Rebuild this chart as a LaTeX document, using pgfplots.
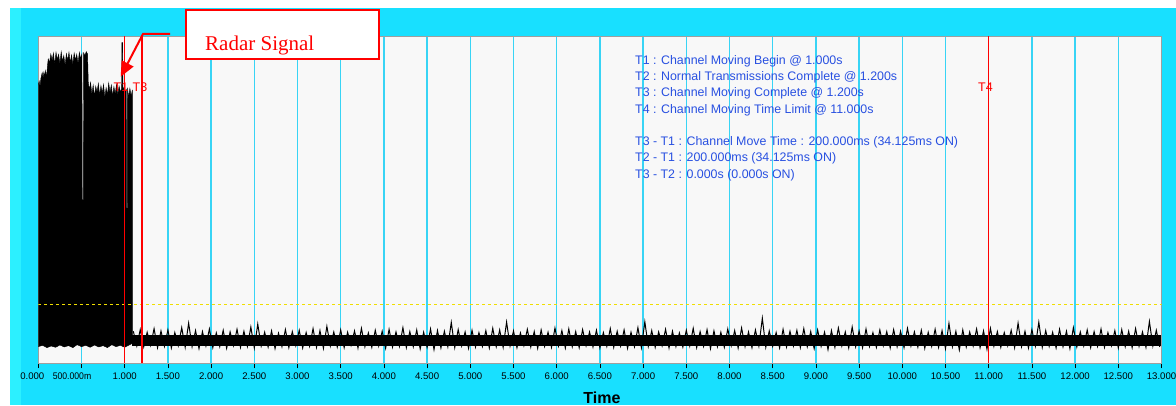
\documentclass[border=0pt]{standalone}
\usepackage{graphicx}
\usepackage{pgfplots}
\pgfplotsset{compat=1.18}
\usepackage{fontspec}
\setmainfont{Liberation Sans}
\newfontfamily\serifface{Liberation Serif}
\usetikzlibrary{arrows.meta}

\definecolor{framecyan}{RGB}{24,224,255}
\definecolor{framelight}{RGB}{44,240,255}
\definecolor{gridcyan}{RGB}{56,212,245}
\definecolor{plotbg}{RGB}{248,248,248}
\definecolor{annblue}{RGB}{40,80,225}
\definecolor{threshyellow}{RGB}{240,222,0}

\begin{document}
\begin{tikzpicture}[x=1pt,y=1pt]
\useasboundingbox (0,0) rectangle (1176,405);
\fill[white] (0,0) rectangle (1176,405);
\fill[framecyan] (10,0) rectangle (1176,397);
\fill[framelight] (10,0) rectangle (21,397);

\begin{axis}[
  at={(38.3pt,42pt)}, anchor=south west,
  scale only axis, width=1123.2pt, height=327pt,
  xmin=0, xmax=13, ymin=0, ymax=1,
  axis background/.style={fill=plotbg},
  axis line style={draw=gray!75, line width=0.8pt},
  xtick={0,0.5,1,1.5,2,2.5,3,3.5,4,4.5,5,5.5,6,6.5,7,7.5,8,8.5,9,9.5,10,10.5,11,11.5,12,12.5,13},
  xticklabels={{\hspace*{-12pt}0.000},{\hspace*{-19pt}\scalebox{0.9}[1]{500.000m}},1.000,1.500,2.000,2.500,3.000,3.500,4.000,4.500,5.000,5.500,6.000,6.500,7.000,7.500,8.000,8.500,9.000,9.500,10.000,10.500,11.000,11.500,12.000,12.500,13.000},
  ytick=\empty,
  xtick pos=lower,
  tick align=outside,
  major tick length=5pt,
  tick style={black, line width=0.8pt},
  xmajorgrids,
  grid style={gridcyan, line width=1.3pt},
  xticklabel style={font=\fontsize{9.6}{10}\selectfont, yshift=-1.5pt},
  /pgf/number format/assume math mode=true,
]

% burst of transmissions before the channel move
\addplot[fill=black, draw=black, line width=0.4pt] coordinates {
(0.000,0.050)(0.000,0.850)(0.010,0.862)(0.020,0.845)(0.030,0.870)(0.045,0.888)(0.055,0.872)(0.065,0.890)(0.075,0.876)(0.085,0.894)(0.095,0.870)(0.105,0.905)(0.115,0.930)
(0.130,0.918)(0.145,0.945)(0.160,0.925)(0.175,0.948)(0.190,0.912)(0.205,0.950)(0.220,0.928)(0.235,0.944)(0.250,0.915)(0.265,0.952)(0.280,0.922)(0.295,0.940)(0.310,0.910)(0.325,0.946)(0.340,0.925)(0.355,0.950)(0.370,0.918)(0.385,0.942)(0.400,0.912)(0.415,0.948)(0.430,0.926)(0.445,0.944)(0.460,0.915)(0.475,0.950)(0.490,0.930)(0.505,0.945)(0.509,0.500)(0.521,0.500)(0.525,0.948)(0.540,0.940)(0.555,0.952)(0.570,0.945)
(0.578,0.860)(0.590,0.835)(0.605,0.858)(0.620,0.822)(0.635,0.850)(0.650,0.815)(0.665,0.846)(0.680,0.828)(0.695,0.855)(0.710,0.818)(0.725,0.848)(0.740,0.825)(0.755,0.852)(0.770,0.812)(0.785,0.842)(0.800,0.820)(0.815,0.856)(0.830,0.826)(0.845,0.850)(0.860,0.816)(0.875,0.845)(0.890,0.822)(0.905,0.852)(0.920,0.818)(0.935,0.847)(0.950,0.828)(0.965,0.840)
(0.968,0.980)(0.976,0.980)(0.980,0.835)(0.995,0.845)(1.010,0.826)(1.018,0.838)(1.020,0.474)(1.030,0.474)(1.032,0.842)(1.045,0.812)(1.060,0.840)(1.075,0.815)(1.088,0.835)(1.088,0.060)
(1.000,0.048)(0.950,0.054)(0.900,0.050)(0.850,0.056)(0.800,0.047)(0.750,0.053)(0.700,0.049)(0.650,0.055)(0.600,0.048)(0.550,0.054)(0.500,0.050)(0.450,0.056)(0.400,0.047)(0.350,0.053)(0.300,0.049)(0.250,0.055)(0.200,0.048)(0.150,0.052)(0.100,0.047)(0.050,0.054)
} -- cycle;

% noise floor after the move: core band
\addplot[fill=black, draw=none] coordinates {
(1.088,0.052)(12.99,0.052)(12.99,0.086)(1.088,0.086)
} -- cycle;

% noise floor after the move: peaks and troughs
\addplot[black, line width=1pt] coordinates {
(1.10,0.097)(1.14,0.052)(1.18,0.102)(1.22,0.049)(1.26,0.094)(1.30,0.054)(1.34,0.105)(1.38,0.047)(1.42,0.098)(1.46,0.051)
(1.50,0.101)(1.54,0.046)(1.58,0.093)(1.62,0.053)(1.66,0.108)(1.70,0.048)(1.74,0.122)(1.78,0.050)(1.82,0.099)(1.86,0.044)
(1.90,0.096)(1.94,0.052)(1.98,0.104)(2.02,0.047)(2.06,0.092)(2.10,0.050)(2.14,0.100)(2.18,0.045)(2.22,0.095)(2.26,0.053)
(2.30,0.103)(2.34,0.048)(2.38,0.097)(2.42,0.051)(2.46,0.110)(2.50,0.046)(2.54,0.119)(2.58,0.052)(2.62,0.094)(2.66,0.049)
(2.70,0.098)(2.74,0.044)(2.78,0.091)(2.82,0.050)(2.86,0.102)(2.90,0.047)(2.94,0.096)(2.98,0.053)(3.02,0.100)(3.06,0.046)
(3.10,0.093)(3.14,0.051)(3.18,0.105)(3.22,0.048)(3.26,0.099)(3.30,0.045)(3.34,0.112)(3.38,0.052)(3.42,0.095)(3.46,0.049)
(3.50,0.101)(3.54,0.047)(3.58,0.094)(3.62,0.054)(3.66,0.098)(3.70,0.046)(3.74,0.106)(3.78,0.050)(3.82,0.092)(3.86,0.048)
(3.90,0.100)(3.94,0.052)(3.98,0.097)(4.02,0.045)(4.06,0.103)(4.10,0.049)(4.14,0.095)(4.18,0.051)(4.22,0.108)(4.26,0.047)
(4.30,0.096)(4.34,0.050)(4.38,0.101)(4.42,0.043)(4.46,0.094)(4.50,0.048)(4.54,0.104)(4.58,0.041)(4.62,0.099)(4.66,0.046)
(4.70,0.097)(4.74,0.050)(4.78,0.124)(4.82,0.047)(4.86,0.102)(4.90,0.052)(4.94,0.095)(4.98,0.045)(5.02,0.100)(5.06,0.049)
(5.10,0.093)(5.14,0.051)(5.18,0.099)(5.22,0.046)(5.26,0.106)(5.30,0.050)(5.34,0.101)(5.38,0.048)(5.42,0.125)(5.46,0.052)
(5.50,0.098)(5.54,0.047)(5.58,0.092)(5.62,0.053)(5.66,0.103)(5.70,0.049)(5.74,0.096)(5.78,0.045)(5.82,0.101)(5.86,0.051)
(5.90,0.094)(5.94,0.048)(5.98,0.107)(6.02,0.052)(6.06,0.099)(6.10,0.046)(6.14,0.104)(6.18,0.050)(6.22,0.096)(6.26,0.047)
(6.30,0.102)(6.34,0.053)(6.38,0.095)(6.42,0.049)(6.46,0.100)(6.50,0.046)(6.54,0.093)(6.58,0.051)(6.62,0.105)(6.66,0.048)
(6.70,0.097)(6.74,0.052)(6.78,0.101)(6.82,0.045)(6.86,0.094)(6.90,0.050)(6.94,0.108)(6.98,0.047)(7.02,0.126)(7.06,0.051)
(7.10,0.099)(7.14,0.048)(7.18,0.095)(7.22,0.053)(7.26,0.103)(7.30,0.046)(7.34,0.097)(7.38,0.050)(7.42,0.092)(7.46,0.049)
(7.50,0.100)(7.54,0.052)(7.58,0.106)(7.62,0.047)(7.66,0.096)(7.70,0.051)(7.74,0.102)(7.78,0.044)(7.82,0.098)(7.86,0.050)
(7.90,0.094)(7.94,0.048)(7.98,0.104)(8.02,0.053)(8.06,0.099)(8.10,0.046)(8.14,0.107)(8.18,0.050)(8.22,0.095)(8.26,0.047)
(8.30,0.101)(8.34,0.052)(8.38,0.137)(8.42,0.048)(8.46,0.098)(8.50,0.051)(8.54,0.093)(8.58,0.046)(8.62,0.103)(8.66,0.049)
(8.70,0.097)(8.74,0.052)(8.78,0.100)(8.82,0.047)(8.86,0.105)(8.90,0.050)(8.94,0.096)(8.98,0.044)(9.02,0.101)(9.06,0.051)
(9.10,0.094)(9.14,0.041)(9.18,0.099)(9.22,0.048)(9.26,0.107)(9.30,0.052)(9.34,0.095)(9.38,0.046)(9.42,0.110)(9.46,0.050)
(9.50,0.098)(9.54,0.047)(9.58,0.104)(9.62,0.051)(9.66,0.093)(9.70,0.048)(9.74,0.101)(9.78,0.053)(9.82,0.096)(9.86,0.046)
(9.90,0.102)(9.94,0.050)(9.98,0.097)(10.02,0.047)(10.06,0.106)(10.10,0.052)(10.14,0.095)(10.18,0.049)(10.22,0.100)(10.26,0.045)
(10.30,0.094)(10.34,0.051)(10.38,0.103)(10.42,0.048)(10.46,0.099)(10.50,0.044)(10.54,0.121)(10.58,0.050)(10.62,0.097)(10.66,0.040)
(10.70,0.101)(10.74,0.049)(10.78,0.095)(10.82,0.052)(10.86,0.104)(10.90,0.047)(10.94,0.098)(10.98,0.042)(11.02,0.106)(11.06,0.051)
(11.10,0.096)(11.14,0.048)(11.18,0.093)(11.22,0.053)(11.26,0.100)(11.30,0.047)(11.34,0.122)(11.38,0.050)(11.42,0.097)(11.46,0.046)
(11.50,0.102)(11.54,0.052)(11.58,0.125)(11.62,0.048)(11.66,0.099)(11.70,0.051)(11.74,0.094)(11.78,0.046)(11.82,0.103)(11.86,0.050)
(11.90,0.097)(11.94,0.044)(11.98,0.108)(12.02,0.049)(12.06,0.095)(12.10,0.052)(12.14,0.101)(12.18,0.047)(12.22,0.096)(12.26,0.051)
(12.30,0.104)(12.34,0.048)(12.38,0.093)(12.42,0.053)(12.46,0.099)(12.50,0.046)(12.54,0.102)(12.58,0.050)(12.62,0.097)(12.66,0.047)
(12.70,0.105)(12.74,0.051)(12.78,0.095)(12.82,0.048)(12.86,0.127)(12.90,0.052)(12.94,0.100)(12.98,0.049)
};

% detection threshold
\addplot[threshyellow, line width=1pt, dash pattern=on 3pt off 3pt] coordinates {(0,0.18)(13,0.18)};

% markers T1, T3, T4
\addplot[red, line width=1.3pt] coordinates {(1.0,0)(1.0,1)};
\addplot[red, line width=1.3pt] coordinates {(1.2,0)(1.2,1)};
\addplot[red, line width=1.3pt] coordinates {(11.0,0)(11.0,1)};

\node[red, font=\fontsize{12.5}{13}\selectfont, inner sep=0] at (axis cs:0.957,0.844) {T1};
\node[red, font=\fontsize{12.5}{13}\selectfont, inner sep=0] at (axis cs:1.177,0.844) {T3};
\node[red, font=\fontsize{12.5}{13}\selectfont, inner sep=0] at (axis cs:10.963,0.844) {T4};

\begin{scope}[every node/.style={anchor=base west, inner sep=0, text=annblue, font=\fontsize{12.4}{14}\selectfont}]
\node at (axis cs:6.906,0.9128) {T1 : Channel Moving Begin @ 1.000s};
\node at (axis cs:6.906,0.8639) {T2 : Normal Transmissions Complete @ 1.200s};
\node at (axis cs:6.906,0.8141) {T3 : Channel Moving Complete @ 1.200s};
\node at (axis cs:6.906,0.7630) {T4 : Channel Moving Time Limit @ 11.000s};
\node at (axis cs:6.906,0.6661) {T3 - T1 : Channel Move Time : 200.000ms (34.125ms ON)};
\node at (axis cs:6.906,0.6153) {T2 - T1 : 200.000ms (34.125ms ON)};
\node at (axis cs:6.906,0.5633) {T3 - T2 : 0.000s (0.000s ON)};
\end{scope}
\end{axis}

% axis title
\node[anchor=base, inner sep=0, font=\bfseries\fontsize{16}{18}\selectfont] at (602,2) {Time};

% callout
\draw[red, line width=2pt, fill=white] (186,346) rectangle (379,395);
\node[anchor=base west, inner sep=0, text=red, font=\serifface\fontsize{21}{24}\selectfont] at (205,354.3) {Radar Signal};
\draw[red, line width=2pt, -{Triangle[length=15pt,width=13pt]}] (170,371) -- (143,371) -- (120.7,328.3);
\end{tikzpicture}
\end{document}
